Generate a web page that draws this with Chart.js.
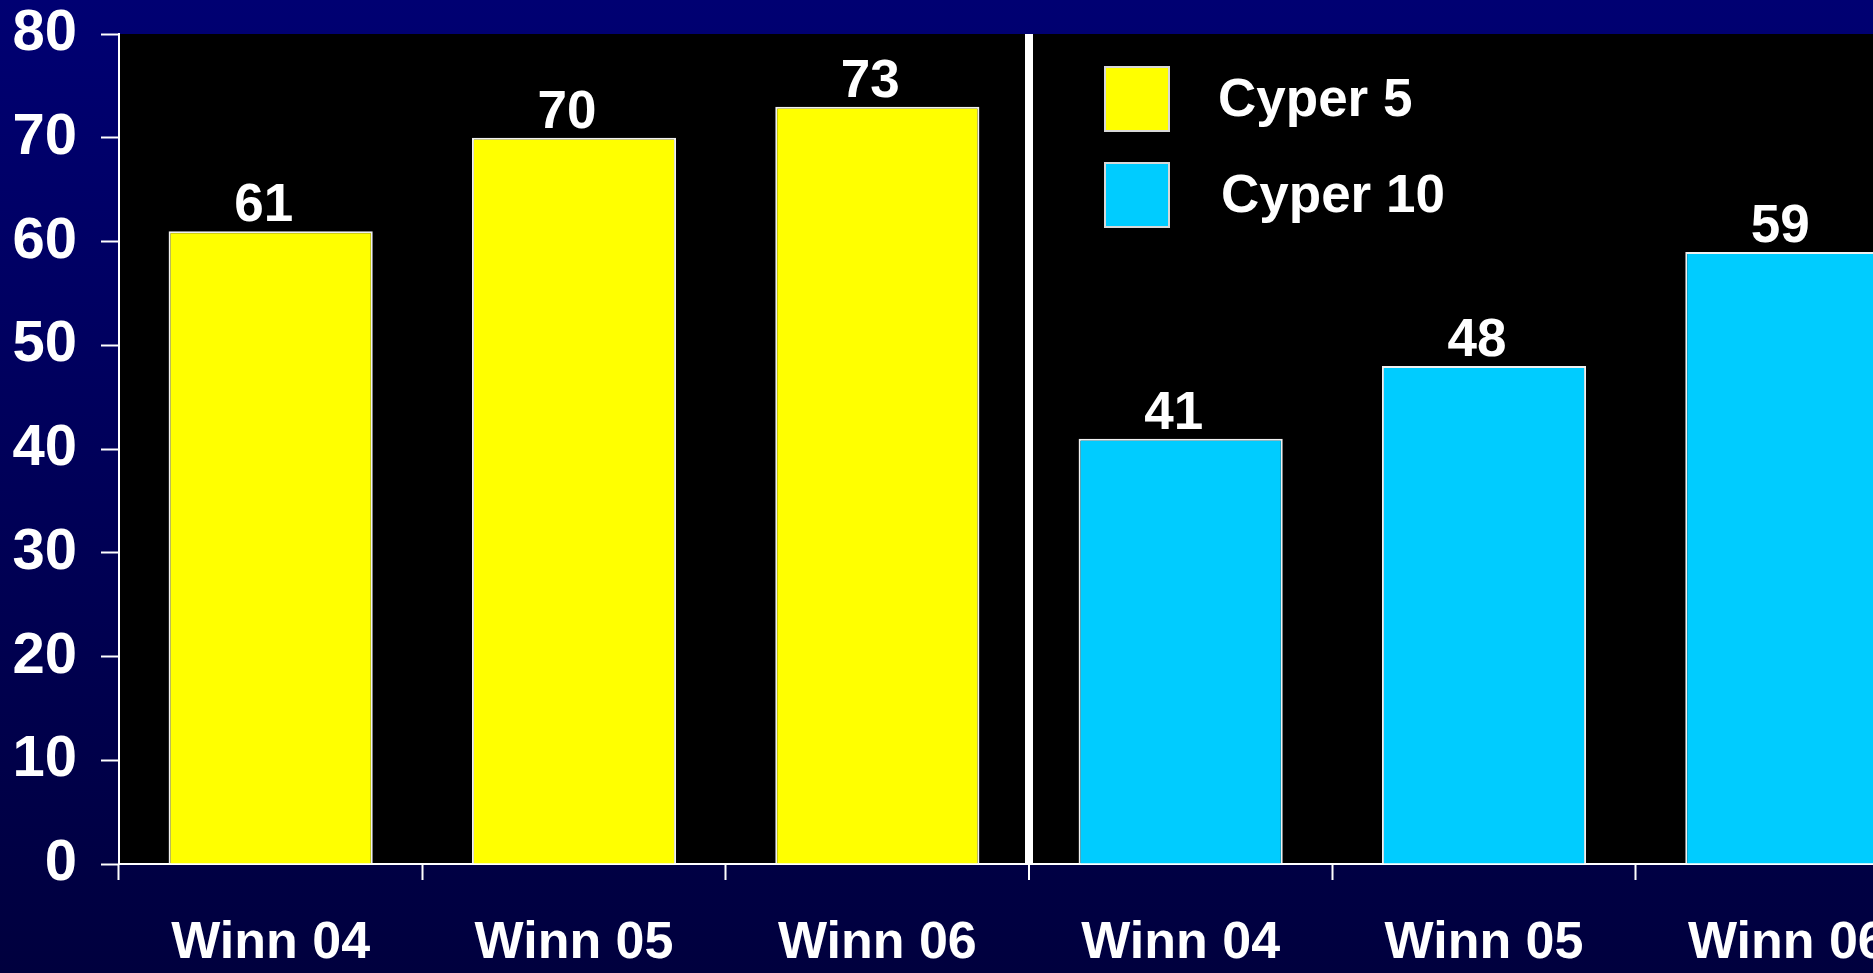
<!DOCTYPE html>
<html>
<head>
<meta charset="utf-8">
<script src="https://cdn.jsdelivr.net/npm/chart.js@4/dist/chart.umd.min.js"></script>
<style>
  html, body { margin: 0; padding: 0; overflow: hidden; background: #000040; }
  #wrap { width: 1873px; height: 973px; overflow: hidden; }
  canvas { display: block; }
</style>
</head>
<body>
<div id="wrap"><canvas id="chart" width="1939" height="973"></canvas></div>
<script>
const categories = ['Winn 04', 'Winn 05', 'Winn 06', 'Winn 04', 'Winn 05', 'Winn 06'];
const cyper5 = [61, 70, 73, null, null, null];
const cyper10 = [null, null, null, 41, 48, 59];
const yTicks = [0, 10, 20, 30, 40, 50, 60, 70, 80];

const FONT = "'Liberation Sans', Arial, sans-serif";

// navy gradient behind everything, black plot area
const backdrop = {
  id: 'backdrop',
  beforeDraw(chart) {
    const { ctx, chartArea: a, width, height } = chart;
    ctx.save();
    const g = ctx.createLinearGradient(0, 0, 0, height);
    g.addColorStop(0, '#000072');
    g.addColorStop(1, '#00003e');
    ctx.fillStyle = g;
    ctx.fillRect(0, 0, width, height);
    ctx.fillStyle = '#000000';
    ctx.fillRect(a.left, a.top, a.right - a.left, a.bottom - a.top);
    ctx.restore();
  }
};

// numbers above each bar
const barValues = {
  id: 'barValues',
  afterDatasetsDraw(chart) {
    const { ctx } = chart;
    ctx.save();
    ctx.fillStyle = '#ffffff';
    ctx.font = 'bold 53px ' + FONT;
    ctx.textAlign = 'center';
    ctx.textBaseline = 'alphabetic';
    chart.data.datasets.forEach((ds, i) => {
      chart.getDatasetMeta(i).data.forEach((bar, j) => {
        const v = ds.data[j];
        if (v == null) return;
        ctx.fillText(String(v), bar.x - 7, bar.y - 10);
      });
    });
    ctx.restore();
  }
};

// legend boxes in the upper right of the plot
const boxLegend = {
  id: 'boxLegend',
  afterDraw(chart) {
    const { ctx } = chart;
    const x = 1105, y0 = 67, size = 64, gap = 96;
    ctx.save();
    ctx.font = 'bold 53px ' + FONT;
    ctx.textBaseline = 'middle';
    ctx.textAlign = 'left';
    chart.data.datasets.forEach((ds, i) => {
      const y = y0 + i * gap;
      ctx.fillStyle = ds.backgroundColor;
      ctx.fillRect(x, y, size, size);
      ctx.strokeStyle = '#d8d8d8';
      ctx.lineWidth = 2;
      ctx.strokeRect(x, y, size, size);
      ctx.fillStyle = '#ffffff';
      ctx.fillText(ds.label, x + 113 + i * 3, y + size / 2 + 2);
    });
    ctx.restore();
  }
};

new Chart(document.getElementById('chart'), {
  type: 'bar',
  data: {
    labels: categories,
    datasets: [
      {
        label: 'Cyper 5',
        data: cyper5,
        backgroundColor: '#ffff00',
        borderColor: '#f0f0f0',
        borderWidth: 2,
      },
      {
        label: 'Cyper 10',
        data: cyper10,
        backgroundColor: '#00ccff',
        borderColor: '#f0f0f0',
        borderWidth: 2,
      },
    ],
  },
  options: {
    responsive: false,
    animation: false,
    devicePixelRatio: 1,
    grouped: false,
    barPercentage: 0.673,
    categoryPercentage: 1,
    layout: { padding: { top: 34, right: 0, bottom: 0, left: 0 } },
    plugins: {
      legend: { display: false },
      tooltip: { enabled: false },
    },
    scales: {
      x: {
        offset: true,
        grid: {
          offset: true,
          drawOnChartArea: true,
          color: (c) => (c.index === 3 ? '#ffffff' : 'rgba(0,0,0,0)'),
          lineWidth: (c) => (c.index === 3 ? 8 : 1),
          tickColor: '#ffffff',
          tickWidth: 2,
          tickLength: 16,
        },
        border: { color: '#ffffff', width: 2 },
        ticks: {
          color: '#ffffff',
          font: { family: FONT, size: 52, weight: 'bold' },
          padding: 32,
          maxRotation: 0,
          autoSkip: false,
        },
        afterFit(scale) { scale.height = 109; },
      },
      y: {
        min: 0,
        max: 80,
        afterBuildTicks(scale) { scale.ticks = yTicks.map((v) => ({ value: v })); },
        grid: {
          drawOnChartArea: false,
          tickColor: '#ffffff',
          tickWidth: 2,
          tickLength: 18,
        },
        border: { color: '#ffffff', width: 2 },
        ticks: {
          color: '#ffffff',
          font: { family: FONT, size: 58, weight: 'bold', lineHeight: 0.3 },
          padding: 24,
        },
        afterFit(scale) { scale.width = 119; },
      },
    },
  },
  plugins: [backdrop, barValues, boxLegend],
});
</script>
</body>
</html>
